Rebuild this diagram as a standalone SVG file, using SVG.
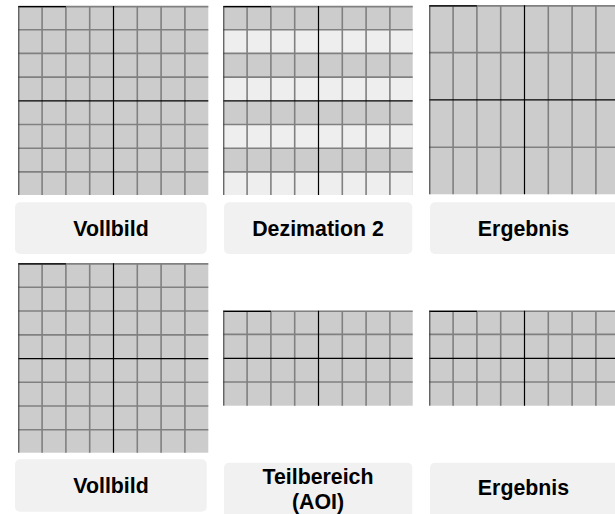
<svg xmlns="http://www.w3.org/2000/svg" width="615" height="514" viewBox="0 0 615 514">
<style>
.cell{fill:#cccccc}
.light{fill:#eeeeee}
.g{stroke:#808080;stroke-width:1.6;fill:none}
.k{stroke:#000;stroke-width:1.2;fill:none}
.edge{stroke:#333;stroke-width:1;fill:none}
.box{fill:#f1f1f1}
.lbl{font-family:"Liberation Sans",Arial,Helvetica,sans-serif;font-weight:bold;font-size:21.33px;fill:#000;text-anchor:middle}
</style>
<rect width="615" height="514" fill="#ffffff"/>

<g id="grid-vollbild-1" transform="translate(18.3,6)">
<rect class="cell" x="0" y="0" width="190" height="189"/>
<path class="g" d="M23.8 0V189M47.6 0V189M71.4 0V189M119 0V189M142.8 0V189M166.6 0V189M0 0.6H190M0 23.7H190M0 47.4H190M0 71.1H190M0 118.5H190M0 142.2H190M0 165.9H190"/>
<path class="k" d="M95.2 0V189M0 94.8H190M0 0.6H47.6"/>
<path class="edge" d="M0.5 0V189"/>
</g>

<g id="grid-dezimation" transform="translate(223.3,6)">
<rect class="cell" x="0" y="0" width="189.4" height="189"/>
<rect class="light" x="0" y="23.7" width="189.4" height="23.7"/>
<rect class="light" x="0" y="71.1" width="189.4" height="23.7"/>
<rect class="light" x="0" y="118.5" width="189.4" height="23.7"/>
<rect class="light" x="0" y="165.9" width="189.4" height="23.1"/>
<path class="g" d="M23.8 0V189M47.6 0V189M71.4 0V189M119 0V189M142.8 0V189M166.6 0V189M0 0.6H189.4M0 23.7H189.4M0 47.4H189.4M0 71.1H189.4M0 118.5H189.4M0 142.2H189.4M0 165.9H189.4"/>
<path class="k" d="M95.2 0V189M0 94.8H189.4M0 0.6H47.6"/>
<path class="edge" d="M0.5 0V189"/>
</g>

<g id="grid-ergebnis-1" transform="translate(429.3,5.3)">
<rect class="cell" x="0" y="0" width="186" height="189"/>
<path class="g" d="M23.8 0V189M47.6 0V189M71.4 0V189M119 0V189M142.8 0V189M166.6 0V189M0 0.6H186M0 47.3H186M0 141.9H186"/>
<path class="k" d="M95.2 0V189M0 94.6H186M0 0.6H47.6"/>
<path class="edge" d="M0.5 0V189"/>
</g>

<g id="grid-vollbild-2" transform="translate(18.3,263.3)">
<rect class="cell" x="0" y="0" width="190" height="189.4"/>
<path class="g" d="M23.8 0V189.4M47.6 0V189.4M71.4 0V189.4M119 0V189.4M142.8 0V189.4M166.6 0V189.4M0 0.6H190M0 23.9H190M0 47.7H190M0 71.6H190M0 119H190M0 142.7H190M0 166.4H190"/>
<path class="k" d="M95.2 0V189.4M0 95.3H190M0 0.6H47.6"/>
<path class="edge" d="M0.5 0V189.4"/>
</g>

<g id="grid-aoi" transform="translate(223.3,310.7)">
<rect class="cell" x="0" y="0" width="189.4" height="95"/>
<path class="g" d="M23.8 0V95M47.6 0V95M71.4 0V95M119 0V95M142.8 0V95M166.6 0V95M0 0.6H189.4M0 23.7H189.4M0 71.3H189.4"/>
<path class="k" d="M95.2 0V95M0 47.6H189.4M0 0.6H47.6"/>
<path class="edge" d="M0.5 0V95"/>
</g>

<g id="grid-ergebnis-2" transform="translate(429.3,310.7)">
<rect class="cell" x="0" y="0" width="186" height="95"/>
<path class="g" d="M23.8 0V95M47.6 0V95M71.4 0V95M119 0V95M142.8 0V95M166.6 0V95M0 0.6H186M0 23.7H186M0 71.3H186"/>
<path class="k" d="M95.2 0V95M0 47.6H186M0 0.6H47.6"/>
<path class="edge" d="M0.5 0V95"/>
</g>

<g id="label-vollbild-1">
<rect class="box" x="15" y="202.3" width="191.7" height="51.7" rx="5"/>
<text class="lbl" x="111" y="235.7">Vollbild</text>
</g>
<g id="label-dezimation">
<rect class="box" x="224" y="202.3" width="188.3" height="51.7" rx="5"/>
<text class="lbl" x="318" y="235.7">Dezimation 2</text>
</g>
<g id="label-ergebnis-1">
<rect class="box" x="430" y="202.3" width="190" height="51.7" rx="5"/>
<text class="lbl" x="523.5" y="235.7">Ergebnis</text>
</g>
<g id="label-vollbild-2">
<rect class="box" x="15" y="459.3" width="191.7" height="52.4" rx="5"/>
<text class="lbl" x="111" y="493.3">Vollbild</text>
</g>
<g id="label-aoi">
<rect class="box" x="224" y="462.7" width="188.3" height="55" rx="5"/>
<text class="lbl" x="318" y="484">Teilbereich</text>
<text class="lbl" x="318" y="509">(AOI)</text>
</g>
<g id="label-ergebnis-2">
<rect class="box" x="430" y="462.7" width="190" height="55" rx="5"/>
<text class="lbl" x="523.5" y="495">Ergebnis</text>
</g>
</svg>
